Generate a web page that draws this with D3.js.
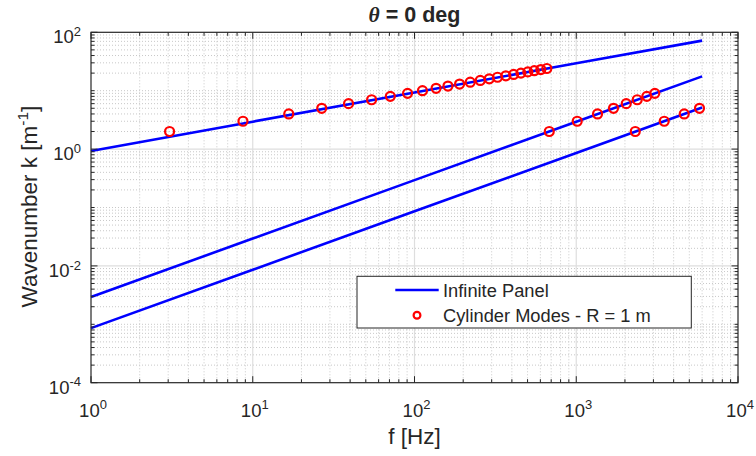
<!DOCTYPE html>
<html>
<head>
<meta charset="utf-8">
<script src="https://cdn.jsdelivr.net/npm/d3@7"></script>
<style>
  html, body { margin: 0; padding: 0; background: #fff; }
  svg { display: block; }
  text { font-family: "Liberation Sans", Arial, Helvetica, sans-serif; fill: #262626; }
</style>
</head>
<body>
<svg id="chart" width="756" height="456"></svg>
<script>
// ---------- data ----------
const panelFreq   = [1, 10, 100, 1000, 6000];              // Hz
const panelKBend  = [0.93, 2.95, 9.3, 29.5, 72];           // m^-1
const panelKMid   = [0.00294, 0.0294, 0.294, 2.94, 17.6];  // m^-1
const panelKLow   = [0.00086, 0.0086, 0.086, 0.86, 5.17];  // m^-1

const modeF1 = [3.06, 8.70, 16.7, 26.7, 39.1, 54.3, 70.9, 90.6, 112, 136, 161, 190,
                221, 255, 290, 326, 367, 410, 455, 502, 550, 604, 658];
const modeK1 = [2, 3, 4, 5, 6, 7, 8, 9, 10, 11, 12, 13, 14, 15, 16, 17, 18, 19, 20, 21, 22, 23, 24];
const modeF2 = [681, 1014, 1354, 1700, 2037, 2382, 2731, 3060];
const modeK2 = [2, 3, 4, 5, 6, 7, 8, 9];
const modeF3 = [2316, 3499, 4651, 5781];
const modeK3 = [2, 3, 4, 5];

const xMajorTicks = [1, 10, 100, 1000, 10000];
const xTickExp    = ["0", "1", "2", "3", "4"];
const yMajorTicks = [1e-4, 1e-2, 1, 100];
const yTickExp    = ["-4", "-2", "0", "2"];

const titleText  = "= 0 deg";
const xLabelText = "f [Hz]";
const yLabelText = "Wavenumber k [m";
const legendLabels = ["Infinite Panel", "Cylinder Modes - R = 1 m"];

// ---------- layout ----------
const L = 91, R = 738, T = 32.3, B = 382.7;
const svg = d3.select("#chart");
const x = d3.scaleLog().domain([1, 1e4]).range([L, R]);
const y = d3.scaleLog().domain([1e-4, 1e2]).range([B, T]);

const axisCol = "#262626";
const blue = "#0000ff", red = "#ff0000";

// minor values
const xMinor = [];
for (let e = 0; e < 4; e++) for (let m = 2; m <= 9; m++) xMinor.push(m * Math.pow(10, e));
const yMinor = [];
for (let e = -4; e < 2; e++) {
  for (let m = 2; m <= 9; m++) yMinor.push(m * Math.pow(10, e));
}
[1e-3, 1e-1, 10].forEach(v => yMinor.push(v));

// ---------- grid ----------
const g = svg.append("g");
g.selectAll(".xminor").data(xMinor).enter().append("line")
  .attr("x1", d => x(d)).attr("x2", d => x(d)).attr("y1", T).attr("y2", B)
  .attr("stroke", "#c8c8c8").attr("stroke-width", 1).attr("stroke-dasharray", "1,2");
g.selectAll(".yminor").data(yMinor).enter().append("line")
  .attr("y1", d => y(d)).attr("y2", d => y(d)).attr("x1", L).attr("x2", R)
  .attr("stroke", "#c8c8c8").attr("stroke-width", 1).attr("stroke-dasharray", "1,2");
g.selectAll(".xmajor").data([10, 100, 1000]).enter().append("line")
  .attr("x1", d => x(d)).attr("x2", d => x(d)).attr("y1", T).attr("y2", B)
  .attr("stroke", "#dedede").attr("stroke-width", 1.2);
g.selectAll(".ymajor").data([1e-2, 1]).enter().append("line")
  .attr("y1", d => y(d)).attr("y2", d => y(d)).attr("x1", L).attr("x2", R)
  .attr("stroke", "#dedede").attr("stroke-width", 1.2);

// ---------- lines ----------
const lineGen = d3.line().x(d => x(d[0])).y(d => y(d[1]));
[panelKBend, panelKMid, panelKLow].forEach(ks => {
  svg.append("path")
    .datum(panelFreq.map((f, i) => [f, ks[i]]))
    .attr("d", lineGen)
    .attr("fill", "none").attr("stroke", blue).attr("stroke-width", 2.6);
});

// ---------- markers ----------
[[modeF1, modeK1], [modeF2, modeK2], [modeF3, modeK3]].forEach(([fs, ks]) => {
  svg.append("g").selectAll("circle")
    .data(fs.map((f, i) => [f, ks[i]]))
    .enter().append("circle")
    .attr("cx", d => x(d[0])).attr("cy", d => y(d[1])).attr("r", 4.5)
    .attr("fill", "none").attr("stroke", red).attr("stroke-width", 2.2);
});

// ---------- axes box & ticks ----------
const ax = svg.append("g");
const majLen = 6.5, minLen = 3.5;
xMajorTicks.forEach(v => {
  ax.append("line").attr("x1", x(v)).attr("x2", x(v)).attr("y1", B).attr("y2", B - majLen).attr("stroke", axisCol);
  ax.append("line").attr("x1", x(v)).attr("x2", x(v)).attr("y1", T).attr("y2", T + majLen).attr("stroke", axisCol);
});
xMinor.forEach(v => {
  ax.append("line").attr("x1", x(v)).attr("x2", x(v)).attr("y1", B).attr("y2", B - minLen).attr("stroke", axisCol);
  ax.append("line").attr("x1", x(v)).attr("x2", x(v)).attr("y1", T).attr("y2", T + minLen).attr("stroke", axisCol);
});
yMajorTicks.forEach(v => {
  ax.append("line").attr("y1", y(v)).attr("y2", y(v)).attr("x1", L).attr("x2", L + majLen).attr("stroke", axisCol);
  ax.append("line").attr("y1", y(v)).attr("y2", y(v)).attr("x1", R).attr("x2", R - majLen).attr("stroke", axisCol);
});
yMinor.forEach(v => {
  ax.append("line").attr("y1", y(v)).attr("y2", y(v)).attr("x1", L).attr("x2", L + minLen).attr("stroke", axisCol);
  ax.append("line").attr("y1", y(v)).attr("y2", y(v)).attr("x1", R).attr("x2", R - minLen).attr("stroke", axisCol);
});
ax.append("rect").attr("x", L).attr("y", T).attr("width", R - L).attr("height", B - T)
  .attr("fill", "none").attr("stroke", axisCol).attr("stroke-width", 1.2);

// tick labels
xMajorTicks.forEach((v, i) => {
  const t = ax.append("text").attr("x", x(v) + 2).attr("y", 416.7)
    .attr("text-anchor", "middle").style("font-size", "18.5px");
  t.append("tspan").text("10");
  t.append("tspan").attr("dy", -7.4).style("font-size", "13px").text(xTickExp[i]);
});
yMajorTicks.forEach((v, i) => {
  const t = ax.append("text").attr("x", 81).attr("y", y(v) + 11)
    .attr("text-anchor", "end").style("font-size", "18.5px");
  t.append("tspan").text("10");
  t.append("tspan").attr("dy", -7.4).style("font-size", "13px").text(yTickExp[i]);
});

// axis labels
svg.append("text").attr("x", (L + R) / 2).attr("y", 443.5)
  .attr("text-anchor", "middle").style("font-size", "22.5px").text(xLabelText);
const yl = svg.append("text")
  .attr("transform", `translate(36.5,${(T + B) / 2 - 1}) rotate(-90)`)
  .attr("text-anchor", "middle").style("font-size", "22.5px");
yl.append("tspan").text(yLabelText);
yl.append("tspan").attr("dy", -9).style("font-size", "15.5px").text("-1");
yl.append("tspan").attr("dy", 9).text("]");

// title
const tt = svg.append("text").attr("x", (L + R) / 2).attr("y", 22)
  .attr("text-anchor", "middle").style("font-size", "21.5px").style("font-weight", "bold");
tt.append("tspan").style("font-style", "italic").style("font-family", "'Liberation Serif', 'DejaVu Serif', serif").text("θ");
tt.append("tspan").text(" " + titleText);

// ---------- legend ----------
const lg = svg.append("g");
lg.append("rect").attr("x", 357).attr("y", 276.3).attr("width", 334.3).attr("height", 51.7)
  .attr("fill", "#fff").attr("stroke", axisCol).attr("stroke-width", 1);
lg.append("line").attr("x1", 395.3).attr("x2", 438.7).attr("y1", 290).attr("y2", 290)
  .attr("stroke", blue).attr("stroke-width", 2.6);
lg.append("circle").attr("cx", 417).attr("cy", 315.3).attr("r", 3.4)
  .attr("fill", "none").attr("stroke", red).attr("stroke-width", 2.2);
lg.append("text").attr("x", 443).attr("y", 296.5).style("font-size", "18.3px").text(legendLabels[0]);
lg.append("text").attr("x", 443).attr("y", 321.8).style("font-size", "18.3px").text(legendLabels[1]);
</script>
</body>
</html>
